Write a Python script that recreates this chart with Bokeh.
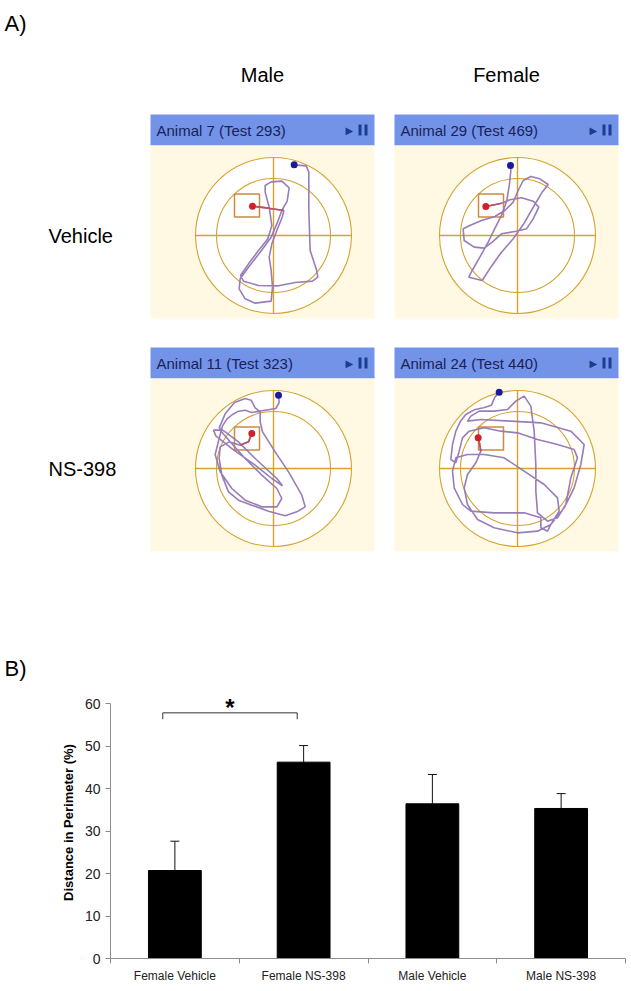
import numpy as np
from bokeh.plotting import figure
from bokeh.models import Range1d, ColumnDataSource, FixedTicker, Whisker, TeeHead, Label
from bokeh.core.properties import value
from bokeh.embed import file_html
from bokeh.resources import INLINE

# ---------------- Panel A data ----------------
sex_labels = ["Male", "Female"]
treatment_labels = ["Vehicle", "NS-398"]
animal_titles = [["Animal 7 (Test 293)", "Animal 29 (Test 469)"],
                 ["Animal 11 (Test 323)", "Animal 24 (Test 440)"]]

# tracked swim paths, camera pixels (y down); arena centre per video, wall radius 234 px
track1_x = [447,483,491,491,495,514,518,502,450,400,340,295,286,310,340,368,380,372,360,360,378,410,432,426,410,396,378,345,310,285,282,300,330,378,382,378,372,380,395,412,416,370,322]
track1_y = [163,166,185,300,420,478,500,512,516,526,525,512,495,460,420,385,345,290,245,225,214,212,232,272,300,338,380,425,470,505,535,565,578,572,530,480,440,400,360,318,300,293,287]
track1_centre = (385, 375)

track2_x = [377,378,374,366,352,332,310,285,262,252,292,318,350,385,418,450,472,490,465,438,415,400,385,360,330,290,255,235,238,268,298,322,350,395,425,445,462,445,410,375,350,332,303]
track2_y = [165,180,220,270,310,350,395,440,480,500,510,470,425,385,338,282,245,222,205,198,210,240,275,300,318,330,345,355,390,410,413,395,370,362,355,325,290,272,262,268,278,282,288]
track2_centre = (398, 375)

track3_x = [400,402,392,355,320,300,280,262,245,232,222,210,225,260,300,350,395,410,395,350,300,255,225,205,212,262,330,380,412,395,330,280,240,222,240,268,300,318,330,345,345,352,390,430,470,480,455,420,370,320,280,250,230,222,225,252,285,310,320]
track3_y = [190,212,230,236,242,235,238,248,262,282,320,368,420,470,505,525,525,500,470,430,380,330,295,295,312,352,400,440,462,440,380,330,300,288,246,212,200,205,228,240,270,300,360,420,490,525,540,552,538,520,505,480,430,380,345,330,340,330,305]
track3_centre = (385, 410)

track4_x = [345,332,322,298,270,245,228,215,205,200,215,225,235,255,300,350,400,460,520,570,580,560,545,520,490,460,455,455,450,440,420,395,370,330,285,260,250,290,380,470,560,600,590,570,540,500,490,470,470,420,330,260,235,210,205,215,250,300,360,420,480,520,525,500,460,400,330,280,250,240,250,275,290,285,282]
track4_y = [183,198,222,230,236,250,272,300,340,385,395,360,320,300,290,300,305,325,340,355,380,440,520,560,570,545,480,400,300,225,195,210,235,240,240,255,270,265,270,275,300,340,400,470,530,580,600,590,560,545,545,540,520,470,420,380,370,370,380,420,460,500,540,580,600,605,590,565,520,470,430,395,360,330,320]
track4_centre = (400, 412)

cam_wall_radius = 234

# ---------------- Panel B data ----------------
groups = ["Female Vehicle", "Female NS-398", "Male Vehicle", "Male NS-398"]
perimeter_pct = [20.7, 46.2, 36.4, 35.3]
perimeter_sem = [6.9, 3.9, 6.9, 3.5]
y_ticks = [0, 10, 20, 30, 40, 50, 60]
sig_pair = (0, 1)
sig_level = 57.8

FONT = value("Liberation Sans")
W = 629
HA = 686

# ================= Panel A figure (page coordinates) =================
pa = figure(width=W, height=HA, x_range=Range1d(0, W), y_range=Range1d(HA, 0),
            x_axis_type=None, y_axis_type=None, toolbar_location=None,
            output_backend="svg", min_border=0, outline_line_color=None)
pa.background_fill_color = "white"
pa.border_fill_color = "white"

HEADER = "#7393E9"
CREAM = "#FFF9E4"
GOLD = "#D6A22C"
SQUARE = "#CC8A40"
TRACK = "#9276B5"

col_left = [150, 394]
row_top = [114, 347]
panel_w = 224
header_h = 31
panel_h = 204
wall_r = 78
inner_r = 57

tracks = [[(track1_x, track1_y, track1_centre), (track2_x, track2_y, track2_centre)],
          [(track3_x, track3_y, track3_centre), (track4_x, track4_y, track4_centre)]]

pa.text(x=[4], y=[23], text=["A)"], text_font=FONT, text_font_size="22px",
        text_baseline="middle", text_color="black")
pa.text(x=[4], y=[668], text=["B)"], text_font=FONT, text_font_size="22px",
        text_baseline="middle", text_color="black")
for c, lab in enumerate(sex_labels):
    pa.text(x=[col_left[c] + 112], y=[74], text=[lab], text_font=FONT, text_font_size="20px",
            text_align="center", text_baseline="middle", text_color="black")

for r in range(2):
    top = row_top[r]
    cy = top + 121
    pa.text(x=[48], y=[cy], text=[treatment_labels[r]], text_font=FONT, text_font_size="20px",
            text_baseline="middle", text_color="black")
    for c in range(2):
        left = col_left[c]
        cx = left + 123
        # header bar
        pa.quad(left=[left], right=[left + panel_w], top=[top], bottom=[top + header_h],
                fill_color=HEADER, line_color=None)
        pa.text(x=[left + 6], y=[top + header_h / 2 + 0.5], text=[animal_titles[r][c]],
                text_font=FONT, text_font_size="15px", text_baseline="middle",
                text_color="#1A2255")
        pa.text(x=[left + 195], y=[top + header_h / 2 + 0.5], text=["\u25B6"],
                text_font=value("DejaVu Sans"), text_font_size="10px", text_baseline="middle",
                text_color="#1C3C8C")
        pa.quad(left=[left + 208, left + 214], right=[left + 211, left + 217],
                top=[top + 10, top + 10], bottom=[top + 21, top + 21],
                fill_color="#1C3C8C", line_color=None)
        # cream panel
        pa.quad(left=[left], right=[left + panel_w], top=[top + header_h], bottom=[top + panel_h],
                fill_color=CREAM, line_color=None)
        # arena
        pa.circle(x=[cx], y=[cy], radius=wall_r, fill_color="white", line_color=GOLD, line_width=1.1)
        pa.circle(x=[cx], y=[cy], radius=inner_r, fill_color=None, line_color=GOLD, line_width=1.1)
        pa.segment(x0=[cx - wall_r, cx], y0=[cy, cy - wall_r], x1=[cx + wall_r, cx], y1=[cy, cy + wall_r],
                   line_color=GOLD, line_width=1.4)
        pa.rect(x=[cx - 26.5], y=[cy - 30], width=25, height=23, fill_color=None,
                line_color=SQUARE, line_width=1.5)
        # track
        tx, ty, (ccx, ccy) = tracks[r][c]
        px = cx + (np.array(tx) - ccx) / cam_wall_radius * wall_r
        py = cy + (np.array(ty) - ccy) / cam_wall_radius * wall_r
        pa.line(px, py, line_color=TRACK, line_width=1.6, line_alpha=0.95)
        pa.line(px[-3:], py[-3:], line_color="#C0505A", line_width=1.6)
        pa.scatter(px[:1], py[:1], size=7, fill_color="#1A1AA0", line_color=None)
        pa.scatter(px[-1:], py[-1:], size=7, fill_color="#D0202A", line_color=None)

# ================= Panel B figure =================
n = len(groups)
pb = figure(width=W, height=303, x_range=Range1d(0, n), y_range=Range1d(0, 64),
            toolbar_location=None, output_backend="svg",
            min_border_left=110, min_border_right=4, min_border_top=0, min_border_bottom=31,
            outline_line_color=None)
pb.background_fill_color = "white"
pb.border_fill_color = "white"
pb.grid.visible = False

xs = [i + 0.5 for i in range(n)]
src = ColumnDataSource(dict(x=xs, top=perimeter_pct,
                            upper=[v + e for v, e in zip(perimeter_pct, perimeter_sem)]))
pb.vbar(x="x", top="top", width=0.41, source=src, fill_color="black", line_color="black")
pb.add_layout(Whisker(base="x", lower="top", upper="upper", source=src,
                      upper_head=TeeHead(size=9, line_color="#111", line_width=1),
                      lower_head=None, line_color="#111", line_width=1))

GRAY = "#8C8C8C"
xa = pb.xaxis[0]
xa.ticker = FixedTicker(ticks=xs, minor_ticks=list(range(n + 1)))
xa.major_label_overrides = {x: g for x, g in zip(xs, groups)}
xa.major_tick_out = 0
xa.major_tick_in = 0
xa.minor_tick_out = 5
xa.minor_tick_in = 0
xa.minor_tick_line_color = GRAY
xa.axis_line_color = GRAY
xa.major_label_standoff = 5
xa.major_label_text_font = "Liberation Sans"
xa.major_label_text_font_size = "12px"
xa.major_label_text_color = "#222222"

ya = pb.yaxis[0]
ya.ticker = FixedTicker(ticks=y_ticks, minor_ticks=[])
ya.bounds = (0, 60)
ya.major_tick_out = 5
ya.major_tick_in = 0
ya.major_tick_line_color = GRAY
ya.axis_line_color = GRAY
ya.major_label_standoff = 5
ya.major_label_text_font = "Liberation Sans"
ya.major_label_text_font_size = "14px"
ya.major_label_text_color = "#222222"
ya.axis_label = "Distance in Perimeter (%)"
ya.axis_label_text_font = "Liberation Sans"
ya.axis_label_text_font_style = "bold"
ya.axis_label_text_font_size = "13px"
ya.axis_label_standoff = 6
ya.axis_label_text_color = "black"

# significance bracket
a, b = sig_pair
bx0 = xs[a] - 0.094
bx1 = xs[b] - 0.05
pb.line(x=[bx0, bx0, bx1, bx1], y=[sig_level - 1.5, sig_level, sig_level, sig_level - 1.5],
        line_color="#333333", line_width=1)
pb.add_layout(Label(x=(bx0 + bx1) / 2, y=59.0, text="*", text_font="Liberation Sans",
                    text_font_size="24px", text_font_style="bold", text_align="center",
                    text_baseline="alphabetic", text_color="black"))

open("out.html", "w").write(file_html([pa, pb], INLINE))
